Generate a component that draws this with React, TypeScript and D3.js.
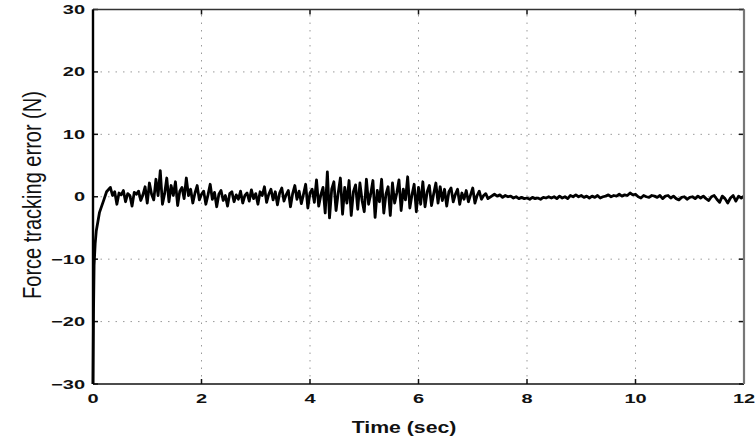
import React from "react";
import * as d3 from "d3";

const W = 756;
const H = 437;

const xTicks = [0, 2, 4, 6, 8, 10, 12];
const yTicks = [-30, -20, -10, 0, 10, 20, 30];

// initial transient
const transientTime = [0, 0.01, 0.02, 0.04, 0.06, 0.09, 0.12, 0.16, 0.2, 0.25];
const transientError = [-30, -18, -11, -7.5, -5.5, -4, -2.5, -1.5, -0.5, 0.8];

// noisy phase sampled every 0.04 s starting at 0.32 s
const noisyStart = 0.32;
const noisyStep = 0.04;
const noisyError = [
  1.5, 0.2, 0.8, -1.2, 0.6, 0.3, 1.0, -0.8, 0.5, 0.2, -1.5, 0.7, 0.4, 0.9, -0.6, 0.3, 1.6, -1.0, 2.2, 0.4, -0.5, 2.8, 0.2, 4.2, -1.2,
  0.5, 3.0, -0.8, 1.8, 0.2, 2.4, -1.4, 0.9, 1.5, -0.3, 3.0, 0.2, 1.2, -1.0, 0.6, 1.8, -0.5, 0.4, 0.9, -1.2, 0.3, 2.0, -0.4, 0.7, -1.6,
  0.4, 1.0, -0.6, 0.2, -1.5, 0.5, 0.8, -0.8, 0.3, -0.4, 0.9, -1.0, 0.2, 0.6, -0.7, 1.1, -0.3, 0.5, -1.2, 0.8, 0.2, 1.6, -0.9, 0.4, 1.2,
  -0.5, 0.8, -1.3, 0.6, 1.4, -0.7, 0.3, 1.0, -1.6, 0.5, 1.8, -0.4, 0.9, -1.1, 0.4, 2.0, -1.8, 0.6, 1.2, -0.9, 2.7, -1.5, 0.3, 1.5, -2.6,
  4.0, -3.4, 1.2, 2.4, -2.2, 0.6, 3.0, -2.8, 1.5, -1.0, 2.6, -3.0, 0.8, 1.9, -2.0, 2.2, -0.6, -2.4, 2.8, -1.2, 0.5, 2.6, -3.3, 1.0, -0.8,
  2.8, -2.6, 0.4, 1.6, -3.0, 2.2, -1.0, 0.6, 2.7, -2.2, 1.2, -0.5, 3.2, -1.8, 0.3, 2.0, -2.4, 1.5, -1.2, 2.4, -1.6, 0.8, 1.8, -1.4, 0.5,
  2.2, -1.0, 1.6, -0.6, 1.2, -1.5, 0.8, 1.4, -0.8, 0.4, 1.2, -1.2, 0.6, -0.4, 1.0, -0.8, 0.3, 1.4, -1.0, 0.2, 0.9, -0.4, 0.2, 0.5, -0.3,
];

// settled phase sampled every 0.05 s starting at 7.4 s
const settledStart = 7.4;
const settledStep = 0.05;
const settledError = [
  0.4, 0.1, 0.3, -0.1, 0.2, 0.0, 0.1, -0.2, 0.0, -0.3, -0.1, -0.3, -0.2, -0.4, -0.1, -0.3, -0.2, -0.4, -0.1, -0.2, 0.0,
  -0.2, 0.0, -0.3, 0.1, -0.2, 0.0, -0.3, 0.2, 0.0, 0.3, 0.0, 0.2, -0.1, 0.1, -0.2, 0.1, -0.1, 0.2, -0.2, 0.0,
  0.1, 0.3, 0.0, 0.2, 0.1, 0.4, 0.1, 0.3, 0.2, 0.6, 0.3, 0.4, 0.0, -0.2, 0.2, 0.0, -0.1, 0.2, 0.1, -0.1,
  0.2, -0.3, 0.1, 0.2, -0.2, 0.1, -0.3, -0.5, -0.1, 0.0, -0.4, -0.1, 0.0, -0.3, 0.1, -0.2, 0.1, -0.3, -0.6, 0.0,
  0.2, -0.4, -0.9, 0.1, -0.3, -1.0, -0.2, 0.2, -0.7, 0.1, -0.2, 0.1,
];

type Pt = [number, number];
const series: Pt[] = [
  ...transientTime.map((t, i) => [t, transientError[i]] as Pt),
  ...noisyError.map((v, i) => [noisyStart + i * noisyStep, v] as Pt),
  ...settledError.map((v, i) => [settledStart + i * settledStep, v] as Pt),
];

const margin = { left: 93, right: 756 - 744, top: 9.5, bottom: 437 - 384 };

export default function App() {
  const x = d3.scaleLinear().domain([0, 12]).range([margin.left, W - margin.right]);
  const y = d3.scaleLinear().domain([-30, 30]).range([H - margin.bottom, margin.top]);
  const line = d3
    .line<Pt>()
    .x((d) => x(d[0]))
    .y((d) => y(d[1]))
    .curve(d3.curveLinear);

  const x0 = x(0), x1 = x(12), y0 = y(-30), y1 = y(30);
  const tickLen = 5;
  const font = "'Liberation Sans', Arial, Helvetica, sans-serif";

  return (
    <svg
      width={W}
      height={H}
      style={{ position: "absolute", left: 0, top: 0, background: "#fff" }}
      fontFamily={font}
    >
      {/* grid */}
      {xTicks.slice(1, -1).map((t) => (
        <line key={"gx" + t} x1={x(t)} x2={x(t)} y1={y0} y2={y1} stroke="#9a9a9a" strokeWidth={1} strokeDasharray="1.5,6" />
      ))}
      {yTicks.slice(1, -1).map((t) => (
        <line key={"gy" + t} x1={x0} x2={x1} y1={y(t)} y2={y(t)} stroke="#9a9a9a" strokeWidth={1} strokeDasharray="1.5,6" />
      ))}

      {/* ticks on all four sides */}
      {xTicks.map((t) => (
        <g key={"tx" + t}>
          <line x1={x(t)} x2={x(t)} y1={y0} y2={y0 - tickLen} stroke="#111" strokeWidth={1.5} />
          <line x1={x(t)} x2={x(t)} y1={y1} y2={y1 + tickLen} stroke="#111" strokeWidth={1.5} />
        </g>
      ))}
      {yTicks.map((t) => (
        <g key={"ty" + t}>
          <line x1={x0} x2={x0 + tickLen} y1={y(t)} y2={y(t)} stroke="#111" strokeWidth={1.5} />
          <line x1={x1} x2={x1 - tickLen} y1={y(t)} y2={y(t)} stroke="#111" strokeWidth={1.5} />
        </g>
      ))}

      {/* data line */}
      <path d={line(series) ?? ""} fill="none" stroke="#000" strokeWidth={2.8} strokeLinejoin="round" />

      {/* frame */}
      <line x1={x0} x2={x1} y1={y1} y2={y1} stroke="#333" strokeWidth={1.6} />
      <line x1={x0} x2={x1} y1={y0} y2={y0} stroke="#111" strokeWidth={1.6} />
      <line x1={x0} x2={x0} y1={y1} y2={y0} stroke="#000" strokeWidth={2.4} />
      <line x1={x1} x2={x1} y1={y1} y2={y0} stroke="#777" strokeWidth={2.2} />

      {/* y tick labels */}
      {yTicks.map((t) => (
        <text
          key={"ly" + t}
          transform={`translate(${x0 - 8},${y(t) + 4.5}) scale(1.6,1)`}
          textAnchor="end"
          fontSize={12.5}
          fontWeight="bold"
          fill="#111"
        >
          {t < 0 ? "\u2212" + Math.abs(t) : String(t)}
        </text>
      ))}

      {/* x tick labels */}
      {xTicks.map((t) => (
        <text
          key={"lx" + t}
          transform={`translate(${x(t)},${403}) scale(1.6,1)`}
          textAnchor="middle"
          fontSize={12.5}
          fontWeight="bold"
          fill="#111"
        >
          {String(t)}
        </text>
      ))}

      {/* axis titles */}
      <text
        transform={`translate(404,433) scale(1.25,1)`}
        textAnchor="middle"
        fontSize={17}
        fontWeight="bold"
        fill="#111"
      >
        Time (sec)
      </text>
      <text
        transform={`translate(41,195) scale(1.3,1) rotate(-90)`}
        textAnchor="middle"
        fontSize={20}
        fill="#111"
      >
        Force tracking error (N)
      </text>
    </svg>
  );
}
